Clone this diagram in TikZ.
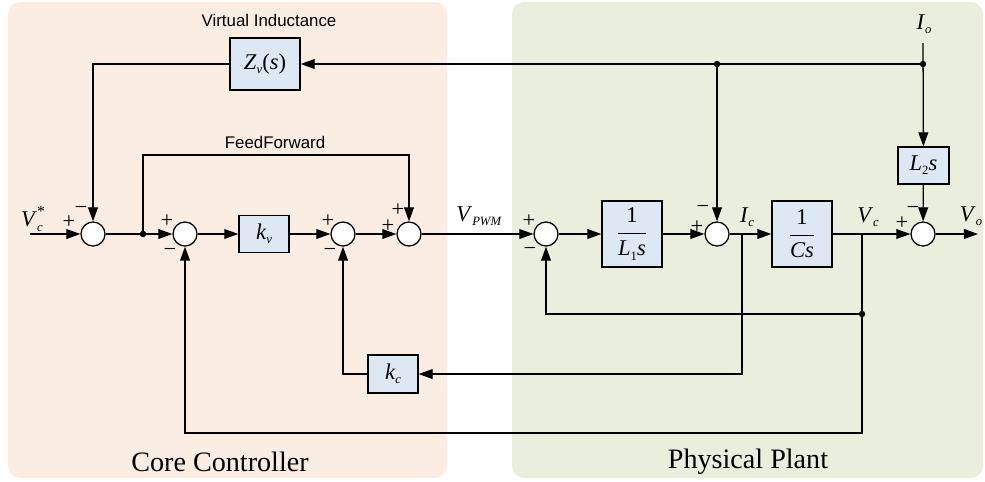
\documentclass[tikz,border=0pt]{standalone}
\usepackage{fontspec}
\setmainfont{Liberation Serif}
\setsansfont{Liberation Sans}
\usetikzlibrary{arrows.meta}

\definecolor{ctrlBg}{RGB}{252,237,227}
\definecolor{plantBg}{RGB}{234,238,221}
\definecolor{blockBg}{RGB}{222,231,244}

% italic letter with small lowered index
\newcommand{\lsub}[2]{\textit{#1}\raisebox{-3pt}{\fontsize{9}{9}\selectfont\textit{#2}}}

\begin{document}
\begin{tikzpicture}[
    x=0.025cm, y=-0.025cm,
    sig/.style={line width=0.9pt, -{Triangle[length=10pt,width=7pt]}},
    wire/.style={line width=0.9pt},
    sumnode/.style={circle, draw, line width=0.9pt, fill=white, minimum size=0.6cm, inner sep=0pt},
    block/.style={draw, line width=0.9pt, fill=blockBg, inner sep=0pt},
    lbl/.style={font=\fontsize{16}{16}\selectfont, inner sep=0pt},
    sgn/.style={font=\fontsize{16}{16}\selectfont, inner sep=0pt}
]

\useasboundingbox (0,0) rectangle (985,481);

% Geometry
\def\mainY{234}
\def\topY{64}
\def\ffY{155}
\def\kcY{374}
\def\midY{314}
\def\botY{433}

% Regions
\fill[ctrlBg, rounded corners=0.3cm] (8,2) rectangle (447,478);
\fill[plantBg, rounded corners=0.3cm] (512,2) rectangle (983,478);
\node[font=\fontsize{20}{20}\selectfont] (ctrlTxt) at (220,462) {Core Controller};
\node[font=\fontsize{20}{20}\selectfont] (plantTxt) at (748,462) {Physical Plant};

% Summing junctions
\node[sumnode] (s1) at (93,\mainY) {};
\node[sumnode] (s2) at (185,\mainY) {};
\node[sumnode] (s3) at (343,\mainY) {};
\node[sumnode] (s4) at (409,\mainY) {};
\node[sumnode] (s5) at (546,\mainY) {};
\node[sumnode] (s6) at (717,\mainY) {};
\node[sumnode] (s7) at (923,\mainY) {};

% Blocks
\node[block, minimum width=1.75cm, minimum height=1.3cm, lbl] (zv) at (265,\topY)
    {\lsub{Z}{v}(\textit{s})};
\node[block, minimum width=1.25cm, minimum height=0.925cm, lbl] (kv) at (264,\mainY)
    {\lsub{k}{v}};
\node[block, minimum width=1.25cm, minimum height=0.95cm, lbl] (kc) at (393,\kcY)
    {\lsub{k}{c}};
\node[block, minimum width=1.5cm, minimum height=1.65cm, lbl] (l1) at (632,\mainY)
    {$\displaystyle\frac{\mbox{1}}{\mbox{\textit{L}\raisebox{-3pt}{\fontsize{9}{9}\selectfont 1}\textit{s}}}$};
\node[block, minimum width=1.5cm, minimum height=1.65cm, lbl] (cs) at (802,\mainY)
    {$\displaystyle\frac{\mbox{1}}{\mbox{\textit{Cs}}}$};
\node[block, minimum width=1.275cm, minimum height=0.925cm, lbl] (l2) at (923.5,165.5)
    {\textit{L}\raisebox{-3pt}{\fontsize{9}{9}\selectfont 2}\textit{s}};

% Coordinates
\coordinate (in) at (30,\mainY);
\coordinate (ff) at (143,\mainY);
\coordinate (ffTop) at (409,\ffY);
\coordinate (ioTop) at (923,43);
\coordinate (ioJ) at (923,\topY);
\coordinate (iJ) at (717,\topY);
\coordinate (icJ) at (742,\mainY);
\coordinate (vcJ) at (862,\mainY);
\coordinate (vcM) at (862,\midY);
\coordinate (botL) at (185,\botY);
\coordinate (out) at (978,\mainY);

% Forward path
\draw[sig] (in) -- (s1);
\draw[wire] (s1) -- (ff);
\draw[sig] (ff) -- (s2);
\draw[sig] (s2) -- (kv);
\draw[sig] (kv) -- (s3);
\draw[sig] (s3) -- (s4);
\draw[sig] (s4) -- (s5);
\draw[sig] (s5) -- (l1);
\draw[sig] (l1) -- (s6);
\draw[sig] (s6) -- (cs);
\draw[sig] (cs) -- (s7);
\draw[sig] (s7) -- (out);

% Load current paths
\draw[sig] (ioTop) -- (l2);
\draw[sig] (l2) -- (s7);
\draw[sig] (ioJ) -- (zv);
\draw[sig] (iJ) -- (s6);
\draw[sig] (zv) -| (s1);

% Feed forward
\draw[sig] (ff) |- (ffTop) -- (s4);

% Feedback loops
\draw[sig] (icJ) |- (kc);
\draw[sig] (kc) -| (s3);
\draw[sig] (vcJ) |- (botL) -- (s2);
\draw[sig] (vcM) -| (s5);

% Junction dots
\fill (ff) circle (2.3pt);
\fill (ioJ) circle (2.3pt);
\fill (iJ) circle (2.3pt);
\fill (vcM) circle (2.3pt);

% Signal labels
\node[lbl] (lblVin) at (32,219)
    {\textit{V}\makebox[0pt][l]{\raisebox{7pt}{\fontsize{11}{11}\selectfont *}}\raisebox{-3pt}{\fontsize{9}{9}\selectfont\textit{c}}\hspace{2pt}};
\node[lbl] (lblPwm) at (479,216) {\lsub{V}{PWM}};
\node[lbl] (lblIc) at (747,217) {\lsub{I}{c}};
\node[lbl] (lblVc) at (868,217) {\lsub{V}{c}};
\node[lbl] (lblVo) at (971,216) {\lsub{V}{o}};
\node[lbl] (lblIo) at (924,24) {\lsub{I}{o}};
\node[font=\sffamily\fontsize{12}{12}\selectfont] (lblVi) at (269,20) {Virtual Inductance};
\node[font=\sffamily\fontsize{12}{12}\selectfont] (lblFf) at (275,142) {FeedForward};

% Signs
\node[sgn] (p1) at (69,222) {+};
\node[sgn] (m1) at (81,210) {−};
\node[sgn] (p2) at (167,221) {+};
\node[sgn] (m2) at (170,252) {−};
\node[sgn] (p3) at (328,221) {+};
\node[sgn] (m3) at (330,252) {−};
\node[sgn] (p4a) at (388,226) {+};
\node[sgn] (p4b) at (398,210) {+};
\node[sgn] (p5) at (529,221) {+};
\node[sgn] (m5) at (530,251) {−};
\node[sgn] (m6) at (703,209) {−};
\node[sgn] (p6) at (697,227) {+};
\node[sgn] (p7) at (902,223) {+};
\node[sgn] (m7) at (913,210) {−};

\end{tikzpicture}
\end{document}
